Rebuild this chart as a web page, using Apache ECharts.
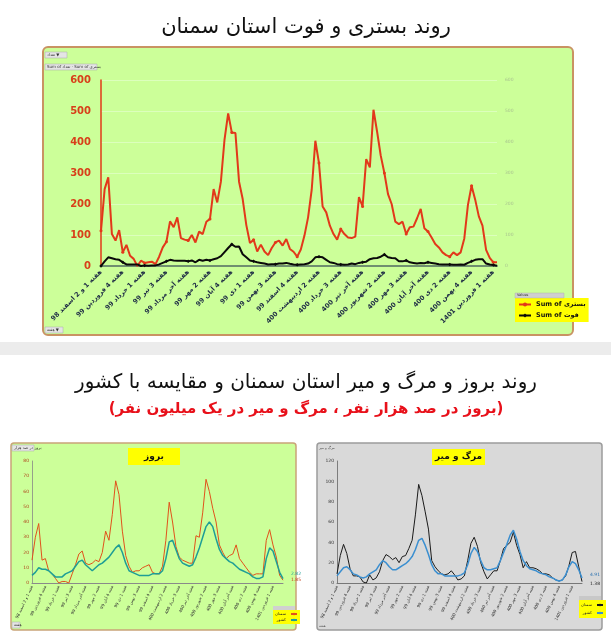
<!DOCTYPE html>
<html>
<head>
<meta charset="utf-8">
<script src="https://cdn.jsdelivr.net/npm/echarts@6/dist/echarts.min.js"></script>
<style>
html,body{margin:0;padding:0;background:#fff;}
#c{width:611px;height:640px;}
</style>
</head>
<body>
<div id="c"></div>
<script>
// ---------- DATA ----------
const mainTitle = 'روند بستری و فوت استان سمنان';
const lowerTitle = 'روند بروز و مرگ و میر استان سمنان و مقایسه با کشور';
const lowerSubtitle = '(بروز در صد هزار نفر ، مرگ و میر در یک میلیون نفر)';

const weekLabels = [
  'هفته 1 و 2 اسفند 98','هفته 4 فروردین 99','هفته 1 خرداد 99','هفته 3 تیر 99',
  'هفته آخر مرداد 99','هفته 2 مهر 99','هفته 4 آبان 99','هفته 1 دی 99',
  'هفته 3 بهمن 99','هفته 4 اسفند 99','هفته 2 اردیبهشت 400','هفته 3 خرداد 400',
  'هفته آخر تیر 400','هفته 2 شهریور 400','هفته 3 مهر 400','هفته آخر آبان 400',
  'هفته 2 دی 400','هفته 4 بهمن 400','هفته 1 فروردین 1401'
];

// weekly hospitalised (بستری)
const hospitalised = [114,248,286,103,82,116,44,68,33,23,0,17,10,12,14,6,30,60,78,144,
  125,157,90,85,82,100,76,111,103,143,152,248,205,272,408,492,431,429,272,216,
  132,74,85,47,69,47,35,58,76,82,66,87,55,46,30,53,98,157,246,404,
  332,192,173,130,103,85,119,103,92,90,95,222,192,345,318,504,433,356,300,232,
  200,143,135,143,103,125,127,154,184,122,111,92,71,60,44,35,30,44,35,44,
  89,197,259,214,160,130,52,26,12,12];
// weekly deaths (فوت)
const deaths = [0,15,28,25,22,20,12,5,5,5,5,0,2,1,2,2,5,10,15,20,
  18,17,17,17,15,18,12,20,17,20,18,22,25,32,45,58,70,62,63,38,
  28,18,15,12,10,8,5,6,6,8,8,10,7,5,4,5,6,8,15,28,
  30,28,20,12,10,6,5,4,5,8,6,10,12,14,22,25,26,30,37,28,
  26,25,15,15,18,12,10,8,10,9,12,10,8,6,5,5,5,4,4,5,
  4,10,15,20,22,22,8,5,3,1];

// incidence per 100k (بروز)
const incidenceSemnan = [15,30,39,15,16,8,6,3,0,1,1,0,6,12,19,21,13,12,13,15,
  14,20,34,28,45,67,58,34,18,11,7,8,8,10,11,12,7,6,6,11,
  28,53,40,24,17,15,14,13,13,31,30,46,68,60,49,40,25,20,16,18,
  19,25,16,13,10,7,5,6,6,6,28,35,25,17,5,1.85];
const incidenceCountry = [5,7,10,9,9,8,6,4,4,4,6,7,8,11,14,15,12,10,8,10,
  12,13,15,17,20,23,25,20,13,8,7,6,5,5,5,5,6,6,6,8,
  16,27,28,22,16,13,12,11,12,17,23,30,37,40,37,29,22,18,16,14,
  13,11,9,8,7,6,4,3,3,4,16,23,21,14,7,2.82];

// deaths per million (مرگ و میر)
const mortalitySemnan = [9,27,38,29,14,7,7,6,1,0,8,3,5,11,22,28,26,23,25,20,
  26,27,34,42,67,97,86,70,53,22,16,12,9,8,9,12,8,3,4,7,
  22,39,45,36,20,11,4,8,12,12,22,34,37,40,50,37,28,15,21,15,
  15,14,12,9,9,8,5,3,2,3,7,17,30,31,16,1.38];
const mortalityCountry = [7,11,15,16,13,9,8,6,5,6,9,11,13,18,22,20,16,13,13,15,
  17,19,22,26,33,42,44,37,28,18,12,9,9,7,7,7,7,7,8,10,
  18,29,35,31,22,15,13,13,14,15,22,30,38,47,52,43,31,22,17,14,
  13,12,10,9,8,6,5,3,2,3,8,16,21,19,13,4.91];

const topCats = hospitalised.map((_, i) => 'w' + (i + 1));
const lowCats = incidenceSemnan.map((_, i) => 'p' + (i + 1));

const legendText = {
  hosp: 'Sum of بستری', death: 'Sum of فوت',
  incS: 'سمنان', incC: 'کشور', morS: 'سمنان', morC: 'کشور'
};

// ---------- CHART ----------
const FONT = 'DejaVu Sans';
const chart = echarts.init(document.getElementById('c'), null, {renderer: 'canvas'});

function lastLabel(len, color, pos, size) {
  return {
    show: true, position: pos, color: color, fontSize: size, fontFamily: FONT,
    formatter: p => (p.dataIndex === len - 1 ? String(p.value) : '')
  };
}

const tinyBtn = (x, y, w, txt) => ([
  {type: 'rect', z: 5, shape: {x: x, y: y, width: w, height: 6},
   style: {fill: '#e4e4e4', stroke: '#a8a8a8', lineWidth: 0.5}},
  {type: 'text', z: 6, x: x + 2, y: y + 1,
   style: {text: txt, fontSize: 4, fill: '#333', fontFamily: FONT}}
]);

const option = {
  animation: false,
  textStyle: {fontFamily: FONT},
  graphic: [
    // main panel
    {type: 'rect', z: -10, shape: {x: 43, y: 47, width: 530, height: 288, r: 5},
     style: {fill: '#ccff99', stroke: '#c99363', lineWidth: 2}},
    {type: 'text', z: 10, x: 306, y: 28,
     style: {text: mainTitle, fontSize: 21, fill: '#111', fontFamily: FONT,
             textAlign: 'center', textVerticalAlign: 'middle'}},
    ...tinyBtn(45, 52, 22, 'تعداد ▼'),
    ...tinyBtn(45, 64, 52, 'Sum of تعداد · Sum of بستری'),
    ...tinyBtn(45, 327, 18, 'هفته ▼'),
    {type: 'rect', z: 5, shape: {x: 515, y: 293, width: 49, height: 5},
     style: {fill: '#cfcfcf', stroke: '#aaa', lineWidth: 0.4}},
    {type: 'text', z: 6, x: 517, y: 293.5,
     style: {text: 'Values', fontSize: 3.5, fill: '#333', fontFamily: FONT}},
    // separator
    {type: 'rect', z: -10, shape: {x: 0, y: 342, width: 611, height: 13},
     style: {fill: '#ececec'}},
    {type: 'text', z: 10, x: 306, y: 383,
     style: {text: lowerTitle, fontSize: 20, fill: '#111', fontFamily: FONT,
             textAlign: 'center', textVerticalAlign: 'middle'}},
    {type: 'text', z: 10, x: 306, y: 409,
     style: {text: lowerSubtitle, fontSize: 15, fontWeight: 'bold', fill: '#e8101a', fontFamily: FONT,
             textAlign: 'center', textVerticalAlign: 'middle'}},
    // left lower panel
    {type: 'rect', z: -10, shape: {x: 11, y: 443, width: 285, height: 187, r: 3},
     style: {fill: '#ccff99', stroke: '#c9a478', lineWidth: 1.5}},
    {type: 'rect', z: 5, shape: {x: 128, y: 448, width: 52, height: 17},
     style: {fill: '#ffff00'}},
    {type: 'text', z: 6, x: 154, y: 456.5,
     style: {text: 'بروز', fontSize: 9, fontWeight: 'bold', fill: '#111', fontFamily: FONT,
             textAlign: 'center', textVerticalAlign: 'middle'}},
    ...tinyBtn(12, 445, 22, 'بروز در صد هزار'),
    ...tinyBtn(12, 622, 8, 'هفته'),
    {type: 'rect', z: 5, shape: {x: 273, y: 606, width: 22, height: 4},
     style: {fill: '#d0d0d0'}},
    // right lower panel
    {type: 'rect', z: -10, shape: {x: 317, y: 443, width: 285, height: 187, r: 3},
     style: {fill: '#d9d9d9', stroke: '#9c9c9c', lineWidth: 1.5}},
    {type: 'rect', z: 5, shape: {x: 432, y: 449, width: 53, height: 16},
     style: {fill: '#ffff00'}},
    {type: 'text', z: 6, x: 458.5, y: 457,
     style: {text: 'مرگ و میر', fontSize: 9, fontWeight: 'bold', fill: '#111', fontFamily: FONT,
             textAlign: 'center', textVerticalAlign: 'middle'}},
    {type: 'text', z: 6, x: 319, y: 446,
     style: {text: 'مرگ و میر', fontSize: 3.5, fill: '#555', fontFamily: FONT}},
    {type: 'text', z: 6, x: 319, y: 624,
     style: {text: 'هفته', fontSize: 3.5, fill: '#555', fontFamily: FONT}},
    {type: 'rect', z: 5, shape: {x: 579, y: 596, width: 22, height: 4},
     style: {fill: '#c8c8c8'}}
  ],
  legend: [
    {data: ['hosp', 'death'], left: 515, top: 298, orient: 'vertical',
     backgroundColor: '#ffff00', padding: [3, 3, 3, 3], itemGap: 4,
     itemWidth: 12, itemHeight: 5, formatter: n => legendText[n],
     textStyle: {fontSize: 6.5, fontWeight: 'bold', color: '#111', fontFamily: FONT}},
    {data: ['incS', 'incC'], left: 273, top: 610, orient: 'vertical', align: 'right',
     backgroundColor: '#ffff00', padding: [2, 2, 2, 2], itemGap: 2, width: 22,
     itemWidth: 6, itemHeight: 3, formatter: n => legendText[n],
     textStyle: {fontSize: 4, color: '#222', fontFamily: FONT}},
    {data: ['morS', 'morC'], left: 579, top: 600, orient: 'vertical', align: 'right',
     backgroundColor: '#ffff00', padding: [3, 2, 3, 2], itemGap: 4,
     itemWidth: 6, itemHeight: 3, formatter: n => legendText[n],
     textStyle: {fontSize: 4, color: '#222', fontFamily: FONT}}
  ],
  grid: [
    {left: 101, right: 114, top: 80, bottom: 374},
    {left: 32, right: 328, top: 461, bottom: 57},
    {left: 337, right: 29, top: 461, bottom: 57}
  ],
  xAxis: [
    {type: 'category', gridIndex: 0, data: topCats, boundaryGap: false,
     axisLine: {lineStyle: {color: '#6f8f6f', width: 2}}, axisTick: {show: false},
     axisLabel: {interval: 5, rotate: 45, fontSize: 6.5, fontWeight: 'bold', color: '#1d2b45',
       margin: 5, fontFamily: FONT, formatter: (v, i) => weekLabels[i / 6] || ''}},
    {type: 'category', gridIndex: 1, data: lowCats, boundaryGap: false,
     axisLine: {lineStyle: {color: '#8a8a8a', width: 1}}, axisTick: {show: false},
     axisLabel: {interval: 3, rotate: 65, fontSize: 4, color: '#333', margin: 3, fontFamily: FONT,
       formatter: (v, i) => weekLabels[i / 4] || ''}},
    {type: 'category', gridIndex: 2, data: lowCats, boundaryGap: false,
     axisLine: {lineStyle: {color: '#777', width: 1}}, axisTick: {show: false},
     axisLabel: {interval: 3, rotate: 65, fontSize: 4, color: '#333', margin: 3, fontFamily: FONT,
       formatter: (v, i) => weekLabels[i / 4] || ''}}
  ],
  yAxis: [
    {type: 'value', gridIndex: 0, min: 0, max: 600, interval: 100,
     axisLine: {show: true, lineStyle: {color: '#e2381a', width: 1.5}}, axisTick: {show: false},
     axisLabel: {fontSize: 10, fontWeight: 'bold', color: '#d8401a', margin: 10, fontFamily: FONT},
     splitLine: {lineStyle: {color: '#dcffbd', width: 1}}},
    {type: 'value', gridIndex: 0, min: 0, max: 600, interval: 100, position: 'right',
     axisLine: {show: false}, axisTick: {show: false}, splitLine: {show: false},
     axisLabel: {fontSize: 4.5, color: '#a9c48f', margin: 8, fontFamily: FONT}},
    {type: 'value', gridIndex: 1, min: 0, max: 80, interval: 10,
     axisLine: {show: true, lineStyle: {color: '#888', width: 0.8}}, axisTick: {show: false},
     axisLabel: {fontSize: 4.5, color: '#b0401a', margin: 3, fontFamily: FONT},
     splitLine: {show: false}},
    {type: 'value', gridIndex: 2, min: 0, max: 120, interval: 20,
     axisLine: {show: true, lineStyle: {color: '#666', width: 0.8}}, axisTick: {show: false},
     axisLabel: {fontSize: 4.5, color: '#333', margin: 3, fontFamily: FONT},
     splitLine: {show: false}}
  ],
  series: [
    {name: 'hosp', type: 'line', xAxisIndex: 0, yAxisIndex: 0, data: hospitalised,
     symbol: 'circle', symbolSize: 3, z: 3,
     itemStyle: {color: '#e2381a'}, lineStyle: {color: '#e2381a', width: 2},
     label: lastLabel(hospitalised.length, '#e2381a', 'right', 10)},
    {name: 'death', type: 'line', xAxisIndex: 0, yAxisIndex: 0, data: deaths,
     symbol: 'diamond', symbolSize: 3.5, z: 4,
     itemStyle: {color: '#0a0a0a'}, lineStyle: {color: '#0a0a0a', width: 2},
     label: lastLabel(deaths.length, '#111', [2, 2], 9)},
    {name: 'incS', type: 'line', xAxisIndex: 1, yAxisIndex: 2, data: incidenceSemnan,
     symbol: 'none', itemStyle: {color: '#e0521c'}, lineStyle: {color: '#e0521c', width: 1},
     endLabel: {show: true, fontSize: 4.5, color: '#c0401a', offset: [0, 0]}},
    {name: 'incC', type: 'line', xAxisIndex: 1, yAxisIndex: 2, data: incidenceCountry,
     symbol: 'none', itemStyle: {color: '#1e9e96'}, lineStyle: {color: '#1e9e96', width: 1.5},
     endLabel: {show: true, fontSize: 4.5, color: '#1e9e96', offset: [0, -5]}},
    {name: 'morS', type: 'line', xAxisIndex: 2, yAxisIndex: 3, data: mortalitySemnan,
     symbol: 'none', itemStyle: {color: '#1a1a1a'}, lineStyle: {color: '#1a1a1a', width: 1},
     endLabel: {show: true, fontSize: 4.5, color: '#222', offset: [0, 2]}},
    {name: 'morC', type: 'line', xAxisIndex: 2, yAxisIndex: 3, data: mortalityCountry,
     symbol: 'none', itemStyle: {color: '#3b8fd0'}, lineStyle: {color: '#3b8fd0', width: 1.5},
     endLabel: {show: true, fontSize: 4.5, color: '#2a70b0', offset: [0, -3]}}
  ]
};
chart.setOption(option);
</script>
</body>
</html>
